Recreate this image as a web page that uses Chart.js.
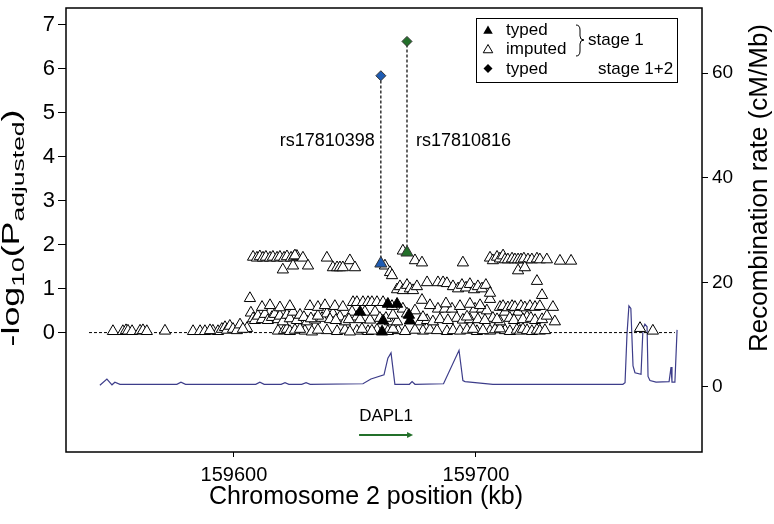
<!DOCTYPE html>
<html><head><meta charset="utf-8">
<script src="https://cdn.jsdelivr.net/npm/chart.js@4.4.1/dist/chart.umd.min.js"></script>
<style>html,body{margin:0;padding:0;background:#fff;}#wrap{width:774px;height:524px;}</style>
</head><body><div id="wrap"><canvas id="c" width="774" height="524"></canvas></div>
<script>
const FONT = 'Arial, "Liberation Sans", Helvetica, sans-serif';

// ---- tick labels ----
const xTicks = [159600, 159700];
const yTicks = [0, 1, 2, 3, 4, 5, 6, 7];
const y2Ticks = [0, 20, 40, 60];

// ---- imputed SNPs (stage 1): position (kb) and -log10(P adjusted) ----
const imputedPos = [
159550.0,159554.1,159555.4,159556.2,159557.9,159561.2,159562.4,159564.0,159571.5,159583.1,159586.0,159591.3,159593.4,159595.0,159596.3,159597.1,159598.3,159599.6,159601.2,159602.5,159605.4,159618.2,159620.7,159621.9,159623.1,159625.2,159629.3,159632.2,159638.4,159642.6,159645.9,159650.8,159655.4,159659.1,159663.6,159667.8,159670.7,159678.1,159681.0,159688.0,159690.5,159693.4,159696.3,159700.4,159705.8,159707.9,159712.0,159714.0,159716.9,159718.2,159719.4,159721.1,159723.1,159725.2,159726.4,159728.5,159767.8,159773.1,
159588.0,159590.1,159603.7,159627.3,159634.7,159647.9,159652.9,159657.0,159665.7,159674.8,159683.9,159698.8,159702.9,159709.9,
159607.0,159607.9,159608.7,159609.9,159611.6,159612.8,159614.0,159615.7,159616.9,159618.2,159619.0,159620.2,159621.9,159623.1,159624.4,159626.0,159627.3,159630.2,159633.5,159636.4,159638.4,159640.9,159643.8,159645.9,159648.8,159650.8,159654.1,159656.2,159658.3,159660.3,159664.5,159667.4,159669.8,159671.5,159674.8,159676.9,159679.8,159682.2,159684.3,159687.2,159690.1,159692.1,159694.6,159697.5,159699.6,159702.5,159704.5,159707.0,159709.9,159712.0,159717.4,159721.1,159732.6,
159628.9,159631.8,159634.7,159639.7,159642.1,159647.5,159652.1,159662.8,159665.7,159678.1,159685.1,159688.4,159696.3,159700.8,159703.7,159708.7,159714.0,159715.7,159719.4,159722.7,159724.4,159727.3,159729.3,
159606.6,159709.9,159711.2,159713.2,159714.9,159716.1,159718.6,159720.2,159722.3,159724.4,159726.4,159731.8,159727.3,159649.2,159650.8,159653.3,159655.4,159657.0,159659.1,159661.6,159677.7,159705.8,159631.4,159634.7,159637.6,159641.7,159645.0,
159611.6,159614.9,159619.0,159623.1,159665.3,159681.0,159687.6,159693.4,159697.5,159701.7,
159667.4,159668.6,159669.8,159671.5,159672.7,159674.0,159675.6,159679.8,159684.3,159686.4,159688.0,159690.5,159692.6,159694.2,159695.9,159697.5,159699.2,159700.8,159702.5,159704.1,159705.8,159725.2,
159607.9,159609.5,159610.7,159612.0,159613.2,159614.9,159616.1,159617.8,159619.0,159620.7,159621.9,159623.6,159624.8,159626.0,159620.2,159624.4,159625.2,159628.5,159630.6,159638.4,159640.9,159642.6,159643.8,159645.0,159647.9,159650.0,159662.4,159664.5,159665.3,159669.8,159674.8,159677.7,159694.6,159705.8,159707.0,159708.7,159709.9,159711.2,159712.0,159713.2,159714.9,159716.1,159717.4,159718.6,159719.8,159721.5,159723.1,159725.2,159726.4,159729.3,159734.7,159739.3,159717.4,159720.2
];
const imputedLogP = [
0.03,0.03,0.05,0.04,0.03,0.04,0.05,0.03,0.04,0.03,0.03,0.04,0.03,0.08,0.12,0.06,0.15,0.08,0.05,0.18,0.10,0.04,0.05,0.08,0.03,0.06,0.04,0.02,0.05,0.03,0.06,0.04,0.03,0.06,0.03,0.05,0.03,0.04,0.06,0.03,0.05,0.04,0.06,0.03,0.04,0.07,0.05,0.03,0.06,0.04,0.08,0.05,0.03,0.06,0.04,0.05,0.10,0.04,
0.03,0.05,0.08,0.08,0.06,0.02,0.08,0.04,0.08,0.06,0.05,0.08,0.05,0.09,
0.45,0.32,0.28,0.38,0.30,0.42,0.28,0.35,0.42,0.30,0.38,0.25,0.40,0.32,0.47,0.28,0.40,0.25,0.29,0.33,0.43,0.43,0.36,0.25,0.47,0.36,0.47,0.29,0.47,0.33,0.25,0.25,0.54,0.43,0.50,0.25,0.28,0.25,0.54,0.54,0.54,0.33,0.29,0.30,0.54,0.54,0.50,0.33,0.25,0.47,0.47,0.36,0.25,
0.35,0.32,0.38,0.30,0.28,0.30,0.30,0.33,0.40,0.35,0.30,0.28,0.36,0.30,0.28,0.30,0.33,0.28,0.30,0.33,0.28,0.30,0.38,
0.78,0.58,0.60,0.57,0.60,0.58,0.60,0.57,0.60,0.58,0.60,0.58,0.85,0.69,0.69,0.69,0.69,0.69,0.69,0.69,0.74,0.76,0.60,0.58,0.62,0.60,0.58,
0.58,0.62,0.57,0.60,0.60,0.62,0.66,0.60,0.65,0.62,
0.98,1.05,0.96,1.08,1.00,0.96,1.05,1.14,1.14,1.14,1.12,1.05,1.00,1.08,1.02,1.10,0.98,1.05,1.00,1.08,0.90,1.17,
1.72,1.70,1.73,1.70,1.72,1.70,1.72,1.70,1.72,1.70,1.73,1.70,1.72,1.74,1.43,1.52,1.75,1.70,1.52,1.70,1.48,1.48,1.48,1.48,1.64,1.48,1.52,1.37,1.30,1.86,1.64,1.59,1.59,1.70,1.64,1.72,1.68,1.75,1.66,1.66,1.68,1.66,1.66,1.66,1.68,1.66,1.66,1.68,1.66,1.66,1.63,1.63,1.41,1.48
];

// ---- typed SNPs (stage 1) ----
const typedPos = [159652.1, 159661.6, 159663.6, 159667.4, 159672.3, 159672.7, 159661.2];
const typedLogP = [0.47, 0.27, 0.65, 0.65, 0.40, 0.27, 0.02];

// ---- highlighted SNPs: stage 1 and stage 1+2 ----
const snpNames = ['rs17810398', 'rs17810816'];
const snpPos = [159660.7, 159671.5];
const snpStage1LogP = [1.57, 1.82];
const snpStage12LogP = [5.84, 6.62];
const snpLabelLevel = [4.35, 4.35];

// ---- recombination rate (cM/Mb) ----
const recombPos = [159544.6,159547.5,159549.6,159550.8,159552.9,159576.4,159578.1,159580.0,159609.0,159610.7,159612.5,159619.5,159621.1,159622.7,159628.0,159629.8,159631.5,159653.3,159656.6,159662.0,159663.6,159664.9,159666.5,159672.5,159673.6,159674.8,159686.6,159693.0,159694.6,159695.5,159707.0,159760.7,159761.6,159762.4,159763.2,159764.0,159764.9,159765.7,159768.2,159769.0,159769.8,159770.7,159771.1,159771.9,159774.4,159779.8,159780.6,159781.0,159782.2,159783.1];
const recombRate = [0.3,1.5,0.4,0.9,0.5,0.5,0.9,0.5,0.5,0.9,0.5,0.5,0.8,0.5,0.5,0.8,0.5,0.6,1.5,2.3,5.5,6.5,0.5,0.5,1.0,0.5,0.6,7.0,1.2,1.0,0.5,0.5,0.8,10,15.5,15,4,2.7,2.4,11,12,11.5,2,1.2,0.9,1.0,3.8,0.9,0.9,10.9];

// ---- reference line at 0 and gene ----
const zeroLineFrom = 159540.1, zeroLineTo = 159782.2;
const geneNames = ['DAPL1'];
const geneStart = [159651.7];
const geneEnd = [159674.0];

const pts = (xs, ys) => xs.map((x, i) => ({x, y: ys[i]}));
const BLUE = '#1f5cb3', GREEN = '#23702a', RECOMB = '#3d3d8a';

const annot = {
  id: 'annot',
  afterDatasetsDraw(chart) {
    const {ctx, chartArea: a, scales} = chart;
    const xs = scales.x, ys = scales.y;
    ctx.save();
    ctx.strokeStyle = '#000'; ctx.lineWidth = 1.5;
    ctx.strokeRect(a.left, a.top, a.right - a.left, a.bottom - a.top);

    // SNP labels
    ctx.fillStyle = '#000';
    ctx.font = '18px ' + FONT;
    ctx.textBaseline = 'middle';
    snpNames.forEach((n, i) => {
      const px = xs.getPixelForValue(snpPos[i]);
      const py = ys.getPixelForValue(snpLabelLevel[i]);
      ctx.textAlign = i === 0 ? 'right' : 'left';
      ctx.fillText(n, px + (i === 0 ? -6 : 9), py);
    });

    // gene
    geneNames.forEach((g, i) => {
      const x0 = xs.getPixelForValue(geneStart[i]), x1 = xs.getPixelForValue(geneEnd[i]);
      const yArrow = ys.getPixelForValue(-2.33), yText = ys.getPixelForValue(-1.91);
      ctx.fillStyle = '#000'; ctx.textAlign = 'center'; ctx.font = '17px ' + FONT;
      ctx.fillText(g, (x0 + x1) / 2, yText);
      ctx.strokeStyle = GREEN; ctx.fillStyle = GREEN; ctx.lineWidth = 2;
      ctx.beginPath(); ctx.moveTo(x0, yArrow); ctx.lineTo(x1 - 4, yArrow); ctx.stroke();
      ctx.beginPath(); ctx.moveTo(x1, yArrow); ctx.lineTo(x1 - 6, yArrow - 3); ctx.lineTo(x1 - 6, yArrow + 3); ctx.closePath(); ctx.fill();
    });

    // legend
    ctx.strokeStyle = '#000'; ctx.lineWidth = 1;
    ctx.strokeRect(476.5, 18.5, 201, 64);
    const tri = (cx, cy, r, fill) => {
      ctx.beginPath();
      ctx.moveTo(cx, cy - r); ctx.lineTo(cx + r * 0.866, cy + r / 2); ctx.lineTo(cx - r * 0.866, cy + r / 2); ctx.closePath();
      if (fill) { ctx.fillStyle = '#000'; ctx.fill(); } else { ctx.fillStyle = '#fff'; ctx.fill(); ctx.strokeStyle = '#000'; ctx.lineWidth = 1; ctx.stroke(); }
    };
    tri(488, 31, 5.5, true);
    tri(488, 50, 5.5, false);
    ctx.beginPath(); ctx.moveTo(488, 64); ctx.lineTo(492.5, 68.5); ctx.lineTo(488, 73); ctx.lineTo(483.5, 68.5); ctx.closePath();
    ctx.fillStyle = '#000'; ctx.fill();
    ctx.font = '17px ' + FONT; ctx.textAlign = 'left'; ctx.fillStyle = '#000';
    ctx.fillText('typed', 506, 30);
    ctx.fillText('imputed', 506, 49);
    ctx.fillText('typed', 506, 69);
    ctx.fillText('stage 1', 588, 40);
    ctx.fillText('stage 1+2', 598, 69);
    // brace
    ctx.strokeStyle = '#000'; ctx.lineWidth = 1;
    ctx.beginPath();
    ctx.moveTo(576, 25); ctx.quadraticCurveTo(580, 25, 580, 30); ctx.lineTo(580, 36);
    ctx.quadraticCurveTo(580, 40, 584, 40); ctx.quadraticCurveTo(580, 40, 580, 44);
    ctx.lineTo(580, 51); ctx.quadraticCurveTo(580, 56, 576, 56);
    ctx.stroke();

    // axis titles
    ctx.fillStyle = '#000';
    ctx.textBaseline = 'middle'; ctx.textAlign = 'center';
    ctx.font = '25px ' + FONT;
    ctx.fillText('Chromosome 2 position (kb)', 366, 497);
    ctx.save();
    ctx.translate(760, 188); ctx.rotate(-Math.PI / 2);
    ctx.font = '26px ' + FONT;
    ctx.fillText('Recombination rate (cM/Mb)', 0, 0);
    ctx.restore();

    // left title with subscripts
    ctx.save();
    ctx.translate(19, 228); ctx.rotate(-Math.PI / 2);
    const F = 23, f = 17;
    const parts = [['-log', F, 0], ['10', f, 5], ['(P', F, 0], ['adjusted', f, 5], [')', F, 0]];
    ctx.textAlign = 'left'; ctx.textBaseline = 'alphabetic';
    let total = 0;
    parts.forEach(p => { ctx.font = p[1] + 'px ' + FONT; total += ctx.measureText(p[0]).width; });
    ctx.scale(237 / total, 1);
    let cx = -total / 2;
    parts.forEach(p => { ctx.font = p[1] + 'px ' + FONT; ctx.fillText(p[0], cx, p[2]); cx += ctx.measureText(p[0]).width; });
    ctx.restore();
    ctx.restore();
  }
};

const tickFont = (s) => ({size: s, family: FONT});
const noPad = s => { s.paddingTop = 0; s.paddingBottom = 0; s.paddingLeft = 0; s.paddingRight = 0; };
new Chart(document.getElementById('c'), {
  type: 'scatter',
  data: {
    datasets: [
      {label: 'recomb', data: pts(recombPos, recombRate), yAxisID: 'y2', showLine: true, borderColor: RECOMB, borderWidth: 1.2, pointRadius: 0, fill: false, tension: 0, order: 10},
      {label: 'zero', data: [{x: zeroLineFrom, y: 0}, {x: zeroLineTo, y: 0}], yAxisID: 'y', showLine: true, borderColor: '#000', borderWidth: 1, borderDash: [3, 2], pointRadius: 0, order: 9},
      {label: 'imputed', data: pts(imputedPos, imputedLogP), yAxisID: 'y', pointStyle: 'triangle', pointRadius: 6.5, backgroundColor: '#fff', borderColor: '#000', borderWidth: 1, order: 8},
      {label: 'typed', data: pts(typedPos, typedLogP), yAxisID: 'y', pointStyle: 'triangle', pointRadius: 6.5, backgroundColor: '#000', borderColor: '#000', borderWidth: 1, order: 7},
      {label: 'link1', data: [{x: snpPos[0], y: snpStage1LogP[0]}, {x: snpPos[0], y: snpStage12LogP[0]}], yAxisID: 'y', showLine: true, borderColor: '#000', borderWidth: 1.2, borderDash: [3, 2], pointRadius: 0, order: 6},
      {label: 'link2', data: [{x: snpPos[1], y: snpStage1LogP[1]}, {x: snpPos[1], y: snpStage12LogP[1]}], yAxisID: 'y', showLine: true, borderColor: '#000', borderWidth: 1.2, borderDash: [3, 2], pointRadius: 0, order: 6},
      {label: 'stage1', data: pts(snpPos, snpStage1LogP), yAxisID: 'y', pointStyle: 'triangle', pointRadius: 7, backgroundColor: [BLUE, GREEN], borderColor: '#333', borderWidth: 1, order: 5},
      {label: 'stage12', data: pts(snpPos, snpStage12LogP), yAxisID: 'y', pointStyle: 'rectRot', pointRadius: 5, backgroundColor: [BLUE, GREEN], borderColor: '#333', borderWidth: 1, order: 4}
    ]
  },
  options: {
    responsive: false, animation: false,
    layout: {padding: {top: 2, left: 0, right: 0, bottom: 0}},
    plugins: {legend: {display: false}, tooltip: {enabled: false}},
    scales: {
      x: {
        type: 'linear', min: 159530.6, max: 159793.4,
        afterBuildTicks: s => { s.ticks = xTicks.map(v => ({value: v})); },
        afterFit: s => { s.height = 72; noPad(s); },
        grid: {drawOnChartArea: false, drawTicks: true, tickLength: 5, color: '#000', tickColor: '#000', lineWidth: 1},
        border: {display: false},
        ticks: {font: tickFont(20), color: '#000', padding: 6, maxRotation: 0, autoSkip: false, callback: v => String(v)}
      },
      y: {
        position: 'left', min: -2.715, max: 7.38,
        afterBuildTicks: s => { s.ticks = yTicks.map(v => ({value: v})); },
        afterFit: s => { s.width = 66; noPad(s); },
        grid: {drawOnChartArea: false, drawTicks: true, tickLength: 8, color: '#000', tickColor: '#000', lineWidth: 1},
        border: {display: false},
        ticks: {font: tickFont(22), color: '#000', padding: 3, autoSkip: false, callback: v => String(v)}
      },
      y2: {
        position: 'right', min: -12.45, max: 72.45,
        afterBuildTicks: s => { s.ticks = y2Ticks.map(v => ({value: v})); },
        afterFit: s => { s.width = 72; noPad(s); },
        grid: {drawOnChartArea: false, drawTicks: true, tickLength: 6, color: '#000', tickColor: '#000', lineWidth: 1},
        border: {display: false},
        ticks: {font: tickFont(19), color: '#000', padding: 4, autoSkip: false, callback: v => String(v)}
      }
    }
  },
  plugins: [annot]
});
</script></body></html>
